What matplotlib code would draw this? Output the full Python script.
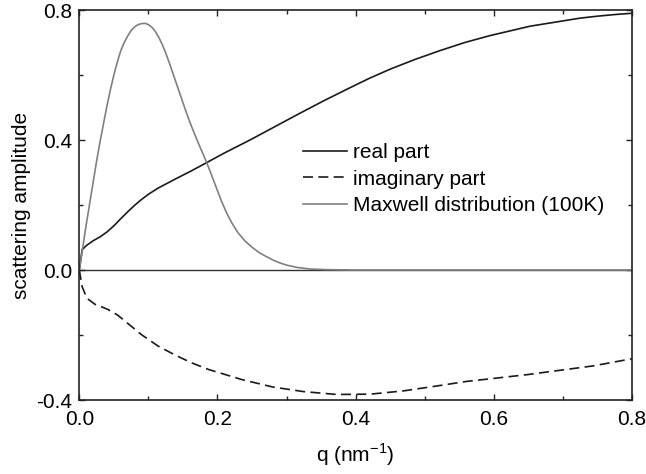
import numpy as np
import matplotlib
matplotlib.use("Agg")
import matplotlib.pyplot as plt
from matplotlib.ticker import MultipleLocator

plt.rcParams['font.family'] = ['Liberation Sans', 'DejaVu Sans']
plt.rcParams['axes.unicode_minus'] = False

# data
q_real = [0.0, 0.004, 0.01, 0.02, 0.03, 0.04, 0.05, 0.06, 0.07, 0.08, 0.09, 0.10,
          0.114, 0.139, 0.163, 0.184, 0.21, 0.247, 0.283, 0.319, 0.355, 0.391, 0.42,
          0.45, 0.486, 0.522, 0.558, 0.594, 0.652, 0.725, 0.75, 0.775, 0.8]
real_part = [0.0, 0.062, 0.075, 0.09, 0.102, 0.117, 0.136, 0.158, 0.179, 0.199, 0.217, 0.233,
             0.252, 0.280, 0.306, 0.330, 0.360, 0.40, 0.441, 0.482, 0.522, 0.560, 0.590,
             0.618, 0.648, 0.675, 0.700, 0.721, 0.750, 0.775, 0.781, 0.786, 0.79]

q_imag = [0.0, 0.004, 0.011, 0.023, 0.032, 0.042, 0.055, 0.066, 0.078, 0.09, 0.114, 0.139,
          0.163, 0.187, 0.235, 0.28, 0.324, 0.373, 0.421, 0.469, 0.517, 0.56, 0.648, 0.744, 0.8]
imag_part = [0.0, -0.051, -0.087, -0.106, -0.113, -0.122, -0.138, -0.157, -0.178, -0.199,
             -0.234, -0.262, -0.286, -0.306, -0.337, -0.36, -0.374, -0.383, -0.382, -0.372,
             -0.357, -0.343, -0.322, -0.295, -0.273]

q_maxw = [0.0, 0.005, 0.01, 0.015, 0.02, 0.025, 0.03, 0.035, 0.04, 0.045, 0.05, 0.055,
          0.06, 0.065, 0.07, 0.075, 0.08, 0.085, 0.09, 0.095, 0.10, 0.105, 0.11, 0.115,
          0.12, 0.125, 0.13, 0.135, 0.14, 0.145, 0.15, 0.155, 0.16, 0.165, 0.17, 0.175,
          0.18, 0.185, 0.19, 0.195, 0.20, 0.205, 0.21, 0.215, 0.22, 0.225, 0.23, 0.24,
          0.25, 0.26, 0.27, 0.28, 0.29, 0.30, 0.315, 0.334, 0.36, 0.40, 0.8]
maxwell = [0.0, 0.07, 0.14, 0.205, 0.27, 0.335, 0.395, 0.45, 0.505, 0.555, 0.60, 0.64,
           0.675, 0.70, 0.72, 0.737, 0.748, 0.755, 0.758, 0.759, 0.755, 0.747, 0.734, 0.716,
           0.694, 0.668, 0.639, 0.608, 0.577, 0.546, 0.515, 0.484, 0.455, 0.428, 0.402, 0.377,
           0.352, 0.327, 0.300, 0.272, 0.244, 0.216, 0.191, 0.168, 0.148, 0.130, 0.114, 0.089,
           0.07, 0.054, 0.042, 0.031, 0.022, 0.015, 0.008, 0.003, 0.001, 0.0, 0.0]

fig = plt.figure(figsize=(6.46, 4.74), dpi=100)
ax = fig.add_axes([0.1228, 0.1561, 0.8555, 0.8228])

ax.axhline(0, color='#333333', lw=1.0, zorder=1)
ax.plot(q_real, real_part, color='#1a1a1a', lw=1.2, label='real part')
ln, = ax.plot(q_imag, imag_part, color='#1a1a1a', lw=1.2, label='imaginary part')
ln.set_dashes((6, 3.2))
ax.plot(q_maxw, maxwell, color='#808080', lw=1.2, label='Maxwell distribution (100K)')

ax.set_xlim(0, 0.8)
ax.set_ylim(-0.4, 0.8)
ax.xaxis.set_major_locator(MultipleLocator(0.2))
ax.xaxis.set_minor_locator(MultipleLocator(0.1))
ax.yaxis.set_major_locator(MultipleLocator(0.4))
ax.yaxis.set_minor_locator(MultipleLocator(0.2))
ax.xaxis.set_major_formatter(plt.FormatStrFormatter('%.1f'))
ax.yaxis.set_major_formatter(plt.FormatStrFormatter('%.1f'))
ax.tick_params(which='both', direction='in', top=True, right=True, labelsize=15, width=1.0, color='#222222')
ax.tick_params(which='major', length=4.5)
ax.tick_params(which='minor', length=3)
ax.tick_params(axis='x', which='major', pad=7)
ax.tick_params(axis='y', which='major', pad=5)
for s in ax.spines.values():
    s.set_linewidth(1.2)
    s.set_color('#222222')

ax.set_xlabel('q (nm$^{\\mathregular{-1}}$)', fontsize=15, labelpad=9)
ax.set_ylabel('scattering amplitude', fontsize=15, labelpad=4)

leg = ax.legend(loc='upper left', bbox_to_anchor=(0.39, 0.68), frameon=False, fontsize=15,
                handlelength=2.1, handletextpad=0.3, labelspacing=0.36, borderaxespad=0)

fig.savefig('out.png', dpi=100)
